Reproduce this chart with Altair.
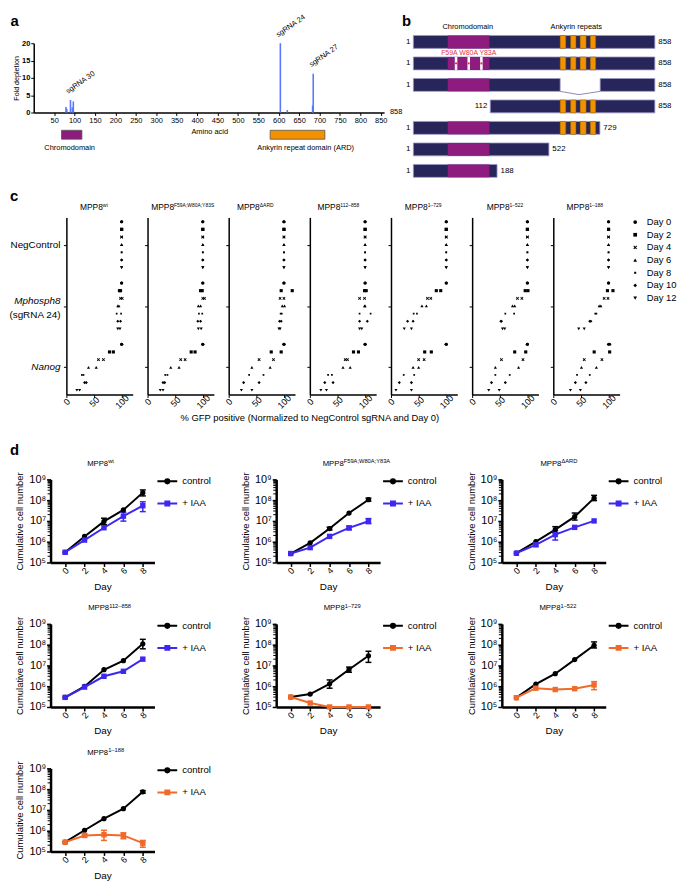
import altair as alt
import pandas as pd

FONT = "Liberation Sans"

# ====================== DATA ======================
# ---- panel a : tiling screen ----
a_aa = [79, 81, 90, 94.5, 97, 604, 621, 683, 684.5]
a_fold = [1.6, 1.0, 3.6, 1.5, 3.2, 20.0, 0.7, 2.0, 11.2]
a_guides = ["sgRNA 30", "sgRNA 24", "sgRNA 27"]
a_guide_aa = [84, 599, 680]
a_guide_fold = [5.4, 21.7, 13.1]
a_x_ticks = list(range(50, 851, 50))
a_y_ticks = [0, 5, 10, 15, 20]
a_length = 858
a_domains = ["Chromodomain", "Ankyrin repeat domain (ARD)"]
a_dom_start = [68, 579]
a_dom_end = [118, 713]
a_dom_label_at = [88, 666]

# ---- panel b : constructs (schematic units) ----
b_left_labels = ["1", "1", "1", "112", "1", "1", "1"]
b_right_labels = ["858", "858", "858", "858", "729", "522", "188"]
b_row_start = [1, 1, 1, 274, 1, 1, 1]
b_row_end = [858, 858, 858, 858, 663, 482, 298]
b_seg_row = [0, 1, 2, 2, 3, 4, 5, 6]
b_seg_start = [1, 1, 1, 664, 274, 1, 1, 1]
b_seg_end = [858, 858, 522, 858, 858, 663, 482, 298]
b_chromo_rows = [0, 1, 2, 4, 5, 6]
b_chromo = (123, 271)
b_ard_rows = [0, 1, 3, 4]
b_ard_blocks = [(522, 542), (559, 578), (593, 614), (629, 648)]
b_mut_row = 1
b_mut_blocks = [(148, 157), (193, 202), (238, 247)]
b_mut_label = "F59A W80A Y83A"
b_gap_x = [522, 589, 664]
b_headers = ["Chromodomain", "Ankyrin repeats"]
b_header_at = [194, 579]

# ---- panel c : GFP reporter ----
c_sup = ["wt", "F59A;W80A;Y83S", "\u0394ARD", "112\u2013858", "1\u2013729", "1\u2013522", "1\u2013188"]
c_groups = ["NegControl", "Mphosph8", "Nanog"]
c_days = ["Day 0", "Day 2", "Day 4", "Day 6", "Day 8", "Day 10", "Day 12"]
c_neg = [[(100, 100)] * 7 for _ in range(7)]
c_mph = [
    [(100, 100), (96, 98), (98, 101), (93, 95), (91, 99), (93, 98), (93, 97)],
    [(100, 100), (96, 99), (100, 103), (92, 96), (93, 99), (91, 96), (92, 97)],
    [(100, 100), (95, 115), (93, 100), (97, 101), (94, 96), (92, 95), (91, 93)],
    [(100, 100), (99, 102), (90, 99), (99, 100), (90, 110), (90, 104), (90, 94)],
    [(100, 100), (82, 90), (66, 72), (56, 64), (41, 47), (30, 40), (24, 37)],
    [(100, 100), (96, 101), (82, 90), (73, 77), (60, 76), (52, 53), (55, 59)],
    [(100, 100), (98, 108), (92, 99), (83, 86), (76, 78), (66, 68), (46, 56)],
]
c_nanog = [
    [(100, 100), (78, 85), (58, 67), (40, 54), (28, 31), (33, 36), (19, 24)],
    [(100, 100), (79, 86), (60, 68), (42, 57), (32, 36), (28, 31), (23, 28)],
    [(100, 100), (77, 95), (55, 81), (42, 75), (37, 63), (27, 55), (23, 42)],
    [(100, 100), (79, 88), (64, 68), (60, 73), (33, 40), (27, 42), (20, 30)],
    [(100, 100), (61, 73), (50, 60), (40, 50), (23, 42), (15, 37), (9, 37)],
    [(100, 100), (77, 97), (53, 92), (42, 84), (42, 68), (35, 60), (30, 49)],
    [(100, 102), (74, 102), (56, 88), (51, 78), (43, 66), (40, 59), (31, 49)],
]
c_xtitle = "% GFP positive (Normalized to NegControl sgRNA and Day 0)"

# ---- panel d : growth curves ----
d_sup = ["wt", "F59A;W80A;Y83A", "\u0394ARD", "112\u2013858", "1\u2013729", "1\u2013522", "1\u2013188"]
d_series = ["control", "+ IAA"]
d_days = [0, 2, 4, 6, 8]
d_ctrl = [
    [3.1e5, 1.8e6, 9.5e6, 3.4e7, 2.3e8],
    [2.7e5, 8.8e5, 4.3e6, 2.4e7, 1.05e8],
    [2.8e5, 1.0e6, 3.8e6, 1.6e7, 1.25e8],
    [2.9e5, 9.8e5, 6.2e6, 1.7e7, 1.1e8],
    [3.0e5, 4.2e5, 1.3e6, 6.4e6, 2.9e7],
    [2.8e5, 1.25e6, 4.0e6, 1.9e7, 9.3e7],
    [2.8e5, 1.05e6, 3.8e6, 1.15e7, 7.4e7],
]
d_ctrl_lo = [
    [3.1e5, 1.8e6, 6.6e6, 3.4e7, 1.6e8],
    [2.7e5, 8.8e5, 3.7e6, 2.4e7, 9.0e7],
    [2.8e5, 1.0e6, 2.7e6, 1.1e7, 9.5e7],
    [2.9e5, 9.8e5, 6.2e6, 1.7e7, 6.3e7],
    [3.0e5, 4.2e5, 8.0e5, 4.7e6, 1.4e7],
    [2.8e5, 1.25e6, 4.0e6, 1.9e7, 6.9e7],
    [2.8e5, 1.05e6, 3.8e6, 1.15e7, 6.3e7],
]
d_ctrl_hi = [
    [3.1e5, 1.8e6, 1.35e7, 3.4e7, 3.1e8],
    [2.7e5, 8.8e5, 5.0e6, 2.4e7, 1.25e8],
    [2.8e5, 1.0e6, 5.3e6, 2.4e7, 1.7e8],
    [2.9e5, 9.8e5, 6.2e6, 1.7e7, 1.8e8],
    [3.0e5, 4.2e5, 2.0e6, 8.3e6, 4.8e7],
    [2.8e5, 1.25e6, 4.0e6, 1.9e7, 1.35e8],
    [2.8e5, 1.05e6, 3.8e6, 1.15e7, 8.5e7],
]
d_iaa = [
    [3.1e5, 1.2e6, 4.7e6, 1.7e7, 5.4e7],
    [2.7e5, 5.2e5, 1.8e6, 4.6e6, 9.6e6],
    [2.8e5, 7.1e5, 2.2e6, 4.9e6, 1.0e7],
    [2.9e5, 9.1e5, 3.0e6, 5.2e6, 2.0e7],
    [3.0e5, 1.55e5, 1.0e5, 1.0e5, 1.0e5],
    [2.8e5, 8.0e5, 6.9e5, 7.6e5, 1.15e6],
    [2.8e5, 5.9e5, 6.4e5, 5.9e5, 2.5e5],
]
d_iaa_lo = [
    [3.1e5, 1.2e6, 4.7e6, 9.8e6, 2.8e7],
    [2.7e5, 5.2e5, 1.8e6, 3.8e6, 7.4e6],
    [2.8e5, 6.0e5, 1.2e6, 4.9e6, 1.0e7],
    [2.9e5, 9.1e5, 3.0e6, 5.2e6, 2.0e7],
    [3.0e5, 1.55e5, 1.0e5, 1.0e5, 1.0e5],
    [2.8e5, 8.0e5, 6.9e5, 7.6e5, 6.8e5],
    [2.8e5, 5.0e5, 3.4e5, 4.1e5, 1.6e5],
]
d_iaa_hi = [
    [3.1e5, 1.2e6, 4.7e6, 2.6e7, 8.3e7],
    [2.7e5, 5.2e5, 1.8e6, 5.6e6, 1.3e7],
    [2.8e5, 8.5e5, 3.4e6, 4.9e6, 1.0e7],
    [2.9e5, 9.1e5, 3.0e6, 5.2e6, 2.0e7],
    [3.0e5, 1.55e5, 1.0e5, 1.0e5, 1.0e5],
    [2.8e5, 8.0e5, 6.9e5, 7.6e5, 1.66e6],
    [2.8e5, 7.0e5, 1.04e6, 7.9e5, 3.4e5],
]
d_y_ticks = [1e5, 1e6, 1e7, 1e8, 1e9]

# ====================== STYLE ======================
BLUE = "#3c28f0"
ORANGE = "#f26a2a"
NAVY = "#28255a"
MAGENTA = "#8e1b7e"
AMBER = "#f39200"
D_COLORS = [BLUE, BLUE, BLUE, BLUE, ORANGE, ORANGE, ORANGE]
C_TITLE_X = [13.7, 3.7, 8.3, 7.7, 14, 14.7, 13.3]
D_TITLE_X = [37, 47, 39, 38, 48, 38, 37]

ONE = pd.DataFrame({"k": [0]})


def txt(text, x, y, size, align="left", baseline="alphabetic", weight="normal",
        style="normal", color="black", opacity=1.0):
    return alt.Chart(ONE).mark_text(
        text=text, align=align, baseline=baseline, fontSize=size, fontWeight=weight,
        fontStyle=style, color=color, opacity=opacity
    ).encode(x=alt.value(x), y=alt.value(y))


def sup_title(sup, x0, y_main, y_sup, fs_main, fs_sup):
    w = 2.723 * fs_main
    return [txt("MPP8", x0, y_main, fs_main), txt(sup, x0 + w, y_sup, fs_sup)]


def spacer(w):
    return alt.Chart(ONE).mark_point(size=0, opacity=0).encode(
        x=alt.value(0), y=alt.value(0)).properties(width=w, height=1)


# ====================== PANEL a ======================
AX = alt.Scale(domain=[0, a_length], nice=False, zero=False)
AY = alt.Scale(domain=[0, 20], nice=False, zero=False)
A_XAXIS = alt.Axis(values=a_x_ticks, labelFontSize=7.5, tickSize=3, domainWidth=1.5, labelPadding=1,
                   labelOverlap=False, labelFlush=False, title=None)
A_YAXIS = alt.Axis(values=a_y_ticks, labelFontSize=7.5, labelFontWeight="bold", tickSize=3,
                   domainWidth=1.5, labelPadding=1, title="Fold depletion", titleFontSize=7.2,
                   titleFontWeight="normal", titlePadding=1)


def ax_(f):
    return alt.X(f, scale=AX, axis=A_XAXIS)


def ay_(f):
    return alt.Y(f, scale=AY, axis=A_YAXIS)


a_bar_df = pd.DataFrame({"aa": a_aa, "fold": a_fold, "base": [0] * len(a_aa)})
a_bars = alt.Chart(a_bar_df).mark_rule(color="#5a78ff", strokeWidth=1.6).encode(
    x=ax_("aa:Q"), y=ay_("fold:Q"), y2="base:Q")
a_guide_df = pd.DataFrame({"name": a_guides, "aa": a_guide_aa, "fold": a_guide_fold})
a_guide_txt = alt.Chart(a_guide_df).mark_text(angle=325, align="left", baseline="alphabetic",
                                              fontSize=7.5, color="black").encode(
    x=ax_("aa:Q"), y=ay_("fold:Q"), text="name:N")
a_end_df = pd.DataFrame({"aa": [a_length], "fold": [0], "t": [str(a_length)]})
a_end_txt = alt.Chart(a_end_df).mark_text(align="left", baseline="middle", dx=6, fontSize=7.5,
                                          color="black").encode(
    x=ax_("aa:Q"), y=ay_("fold:Q"), text="t:N")

a_dom_df = pd.DataFrame({"name": a_domains, "start": a_dom_start, "end": a_dom_end,
                         "lab": a_dom_label_at})
a_dom_df["top"] = -5.14
a_dom_df["bot"] = -7.71
a_dom_df["ty"] = -10.9
a_dom_layers = []
for nm, colr in zip(a_domains, [MAGENTA, AMBER]):
    a_dom_layers.append(
        alt.Chart(a_dom_df).transform_filter(alt.datum.name == nm).mark_rect(
            color=colr, stroke="#555555", strokeWidth=0.8).encode(
            x=ax_("start:Q"), x2="end:Q", y=ay_("top:Q"), y2="bot:Q"))
a_dom_txt = alt.Chart(a_dom_df).mark_text(align="center", baseline="alphabetic", fontSize=7.5,
                                          color="black").encode(
    x=ax_("lab:Q"), y=ay_("ty:Q"), text="name:N")
a_amino_df = pd.DataFrame({"aa": [431], "fold": [-6.1], "t": ["Amino acid"]})
a_amino = alt.Chart(a_amino_df).mark_text(align="center", baseline="alphabetic", fontSize=7.5,
                                          color="black").encode(
    x=ax_("aa:Q"), y=ay_("fold:Q"), text="t:N")

panel_a = alt.layer(a_bars, a_guide_txt, a_end_txt, *a_dom_layers, a_dom_txt, a_amino,
                    txt("a", -23.5, -17.7, 15, weight="bold")).properties(width=354, height=70)

# ====================== PANEL b ======================
B_PX = 0.28471          # px per schematic unit
B_LEFT = 19.6           # px between plot edge and the construct start
B_W = 263.6
BX = alt.Scale(domain=[1 - B_LEFT / B_PX, 858], nice=False, zero=False)
BY = alt.Scale(domain=[0.06, 6.46], reverse=True, nice=False, zero=False)
HALF = 0.3


def bx_(f):
    return alt.X(f, scale=BX, axis=None)


def by_(f):
    return alt.Y(f, scale=BY, axis=None)


def rect_df(rows, spans):
    recs = []
    for r in rows:
        for s, e in spans:
            recs.append({"start": s, "end": e, "top": r - HALF, "bot": r + HALF})
    return pd.DataFrame(recs)


def b_rect(df, fill, stroke=None, sw=0.0):
    kw = dict(color=fill)
    if stroke:
        kw.update(stroke=stroke, strokeWidth=sw)
    return alt.Chart(df).mark_rect(**kw).encode(x=bx_("start:Q"), x2="end:Q", y=by_("top:Q"), y2="bot:Q")


b_seg_df = pd.DataFrame({"start": b_seg_start, "end": b_seg_end,
                         "top": [r - HALF for r in b_seg_row], "bot": [r + HALF for r in b_seg_row]})
b_layers = [
    b_rect(b_seg_df, NAVY, "#9a9ac8", 0.8),
    b_rect(rect_df(b_chromo_rows, [b_chromo]), MAGENTA),
    b_rect(rect_df(b_ard_rows, b_ard_blocks), AMBER, "#9a6200", 0.5),
    b_rect(rect_df([b_mut_row], b_mut_blocks), "white"),
]
b_dot_df = pd.DataFrame({"x": [(s + e) / 2 for s, e in b_mut_blocks], "y": [b_mut_row] * 3})
b_layers.append(alt.Chart(b_dot_df).mark_point(filled=True, color="#e8353f", size=5, opacity=1).encode(
    x=bx_("x:Q"), y=by_("y:Q")))
b_gap_df = pd.DataFrame({"x": b_gap_x, "y": [2 + HALF, 2 + HALF + 0.15, 2 + HALF], "o": [0, 1, 2]})
b_layers.append(alt.Chart(b_gap_df).mark_line(color="#8a8ab8", strokeWidth=1).encode(
    x=bx_("x:Q"), y=by_("y:Q"), order="o:Q"))
b_lab_df = pd.DataFrame({"row": list(range(7)), "s": b_row_start, "e": b_row_end,
                         "l": b_left_labels, "r": b_right_labels})
b_layers.append(alt.Chart(b_lab_df).mark_text(align="right", baseline="middle", dx=-3, fontSize=8,
                                              color="black").encode(
    x=bx_("s:Q"), y=by_("row:Q"), text="l:N"))
b_layers.append(alt.Chart(b_lab_df).mark_text(align="left", baseline="middle", dx=3.5, fontSize=8,
                                              color="black").encode(
    x=bx_("e:Q"), y=by_("row:Q"), text="r:N"))
b_head_df = pd.DataFrame({"t": b_headers, "x": b_header_at, "y": [-0.68, -0.68]})
b_layers.append(alt.Chart(b_head_df).mark_text(align="center", baseline="middle", fontSize=7.5,
                                               color="black").encode(
    x=bx_("x:Q"), y=by_("y:Q"), text="t:N"))
b_mut_df = pd.DataFrame({"t": [b_mut_label], "x": [b_dot_df.x.iloc[1]], "y": [b_mut_row - 0.5]})
b_layers.append(alt.Chart(b_mut_df).mark_text(align="center", baseline="middle", fontSize=7,
                                              color="#e8353f").encode(
    x=bx_("x:Q"), y=by_("y:Q"), text="t:N"))
b_layers.append(txt("b", 8, -17.7, 15, weight="bold"))
panel_b = alt.layer(*b_layers).properties(width=B_W, height=139)

# ====================== PANEL c ======================
recs = []
for p in range(7):
    for g, src in enumerate([c_neg, c_mph, c_nanog]):
        for d, pair in enumerate(src[p]):
            for v in pair:
                recs.append({"panel": p, "group": c_groups[g], "day": c_days[d],
                             "ypos": g * 8 + d, "gfp": v})
c_df = pd.DataFrame(recs)

C_X = alt.Scale(domain=[0, 120], nice=False, zero=False)
C_Y = alt.Scale(domain=[-0.56, 22.56], reverse=True, nice=False, zero=False)
X_PATH = "M-1,-0.6L-0.6,-1L0,-0.4L0.6,-1L1,-0.6L0.4,0L1,0.6L0.6,1L0,0.4L-0.6,1L-1,0.6L-0.4,0Z"
SMALL_SQ = "M-0.55,-0.55L0.55,-0.55L0.55,0.55L-0.55,0.55Z"
C_SHAPES = ["circle", "square", X_PATH, "triangle-up", SMALL_SQ, "diamond", "triangle-down"]

c_xaxis = alt.Axis(values=[0, 50, 100], labelAngle=315, labelAlign="center", labelBaseline="middle",
                   labelPadding=4, labelFontSize=9, labelOverlap=False, labelFlush=False, tickSize=3,
                   domainWidth=1.5, title=None)
c_yaxis = alt.Axis(values=[3, 11, 19], labels=False, tickSize=3, domainWidth=1.5, title=None)
c_legend = alt.Legend(title=None, orient="none", legendX=78, legendY=0, padding=0, labelFontSize=9.5,
                      labelColor="black", labelOffset=7, symbolSize=14, symbolFillColor="black",
                      symbolStrokeWidth=0, rowPadding=1.8)


def c_panel(i):
    sub = c_df[c_df.panel == i]
    layers = [alt.Chart(sub).mark_point(filled=True, opacity=1, size=10, color="black").encode(
        x=alt.X("gfp:Q", scale=C_X, axis=c_xaxis),
        y=alt.Y("ypos:Q", scale=C_Y, axis=c_yaxis),
        shape=alt.Shape("day:N", scale=alt.Scale(domain=c_days, range=C_SHAPES),
                        legend=(c_legend if i == 6 else None)),
    )]
    layers += sup_title(c_sup[i], C_TITLE_X[i], -7, -10.5, 8.5, 5)
    if i == 0:
        layers.append(txt("c", -57, -16.7, 15, weight="bold"))
        lab_specs = [("NegControl", 0, "normal", 0), ("Mphosph8", 1, "italic", -5),
                     ("(sgRNA 24)", 1, "normal", 9.5), ("Nanog", 2, "italic", 0)]
        for t, g, st, dy in lab_specs:
            ldf = pd.DataFrame({"ypos": [g * 8 + 3], "t": [t]})
            layers.append(alt.Chart(ldf).mark_text(align="right", baseline="middle", fontSize=10,
                                                   fontStyle=st, dy=dy, color="black").encode(
                x=alt.value(-6), y=alt.Y("ypos:Q", scale=C_Y, axis=c_yaxis), text="t:N"))
    if i == 3:
        layers.append(txt(c_xtitle, 0, 205.5, 9.5, align="center"))
    return alt.layer(*layers).properties(width=67, height=179)


# ====================== PANEL d ======================
recs = []
for k in range(7):
    for j, dd in enumerate(d_days):
        recs.append({"panel": k, "series": "control", "day": dd, "cells": d_ctrl[k][j],
                     "lo": d_ctrl_lo[k][j], "hi": d_ctrl_hi[k][j]})
        recs.append({"panel": k, "series": "+ IAA", "day": dd, "cells": d_iaa[k][j],
                     "lo": d_iaa_lo[k][j], "hi": d_iaa_hi[k][j]})
d_df = pd.DataFrame(recs)
minor_df = pd.DataFrame({"m": [m * 10 ** e for e in range(5, 9) for m in range(2, 10)]})
# one clipped (off-scale) entry per series: only feeds the legend
legend_df = pd.DataFrame({"series": d_series, "day": [4, 4], "cells": [1e3, 1e3]})

D_X = alt.Scale(domain=[-1.5, 9.2], nice=False, zero=False)
D_Y = alt.Scale(type="log", domain=[1e5, 1e9], nice=False)
label_expr = ("datum.value < 5e5 ? '10\u2075' : datum.value < 5e6 ? '10\u2076' : "
              "datum.value < 5e7 ? '10\u2077' : datum.value < 5e8 ? '10\u2078' : '10\u2079'")
D_XAXIS = alt.Axis(values=d_days, labelAngle=315, labelAlign="center", labelBaseline="middle",
                   labelPadding=4, labelFontSize=9, labelOverlap=False, labelFlush=False, tickSize=4,
                   tickWidth=1.5, domainWidth=2.5, title="Day", titleFontSize=10,
                   titleFontWeight="normal", titlePadding=6)
D_YAXIS = alt.Axis(values=d_y_ticks, labelExpr=label_expr, labelFontSize=11, labelPadding=1,
                   labelOverlap=False, labelFlush=False, tickSize=4, tickWidth=1.5, domainWidth=2.5,
                   title="Cumulative cell number", titleFontSize=9.5, titleFontWeight="normal",
                   titlePadding=4)
CTRL_SYM = "M-2,0L2,0M-0.42,0A0.42,0.42,0,1,1,0.42,0A0.42,0.42,0,1,1,-0.42,0Z"
IAA_SYM = "M-2,0L2,0M-0.4,-0.4L0.4,-0.4L0.4,0.4L-0.4,0.4Z"
D_LEGEND = alt.Legend(title=None, orient="none", legendX=112, legendY=-4, padding=0,
                      labelFontSize=9.7, labelColor="black", labelOffset=9, symbolSize=100,
                      symbolStrokeWidth=2, rowPadding=9.3, symbolOpacity=1)


def dx_(f):
    return alt.X(f, scale=D_X, axis=D_XAXIS)


def dy_(f):
    return alt.Y(f, scale=D_Y, axis=D_YAXIS)


def d_panel(k, letter=None):
    sub = d_df[d_df.panel == k]
    cscale = alt.Scale(domain=d_series, range=["black", D_COLORS[k]])
    cn = alt.Color("series:N", scale=cscale, legend=D_LEGEND)
    line = alt.Chart(sub).mark_line(strokeWidth=2).encode(x=dx_("day:Q"), y=dy_("cells:Q"), color=cn)
    errs = alt.Chart(sub).transform_filter("datum.hi > datum.lo")
    bar = errs.mark_rule(strokeWidth=1.5).encode(x=dx_("day:Q"), y=dy_("lo:Q"), y2="hi:Q", color=cn)
    cap_lo = errs.mark_rule(strokeWidth=1.5, xOffset=-3, x2Offset=3).encode(
        x=dx_("day:Q"), x2="day:Q", y=dy_("lo:Q"), color=cn)
    cap_hi = errs.mark_rule(strokeWidth=1.5, xOffset=-3, x2Offset=3).encode(
        x=dx_("day:Q"), x2="day:Q", y=dy_("hi:Q"), color=cn)
    p_c = alt.Chart(sub).transform_filter("datum.series == 'control'").mark_point(
        shape="circle", filled=True, size=28, opacity=1).encode(x=dx_("day:Q"), y=dy_("cells:Q"), color=cn)
    p_i = alt.Chart(sub).transform_filter("datum.series == '+ IAA'").mark_point(
        shape="square", filled=True, size=30, opacity=1).encode(x=dx_("day:Q"), y=dy_("cells:Q"), color=cn)
    key = alt.Chart(legend_df).mark_point(filled=True, clip=True, strokeWidth=2, size=100,
                                           opacity=1).encode(
        x=dx_("day:Q"), y=dy_("cells:Q"), color=cn,
        stroke=alt.Stroke("series:N", scale=cscale, legend=D_LEGEND),
        shape=alt.Shape("series:N", scale=alt.Scale(domain=d_series, range=[CTRL_SYM, IAA_SYM]),
                        legend=D_LEGEND))
    minor = alt.Chart(minor_df).mark_rule(color="black", strokeWidth=1).encode(
        x=alt.value(-3), x2=alt.value(0), y=dy_("m:Q"))
    layers = [line, minor, bar, cap_lo, cap_hi, p_c, p_i, key]
    layers += sup_title(d_sup[k], D_TITLE_X[k], -13.5, -16.5, 7.8, 5.8)
    if letter:
        layers.append(txt(letter, -41, -24.3, 15, weight="bold"))
    return alt.layer(*layers).properties(width=105, height=84)


# ====================== LAYOUT ======================
def ind(ch):
    return ch.resolve_scale(color="independent", shape="independent", stroke="independent").resolve_legend(
        color="independent", shape="independent", stroke="independent")


row1 = ind(alt.hconcat(spacer(13.4), panel_a, panel_b, spacing=10, bounds="flush"))
row2 = ind(alt.hconcat(spacer(42), *[c_panel(i) for i in range(7)], spacing=15, bounds="flush"))
row3 = ind(alt.hconcat(spacer(31), d_panel(0, letter="d"), spacer(103), d_panel(1), spacer(103),
                       d_panel(2), spacing=10, bounds="flush"))
row4 = ind(alt.hconcat(spacer(31), d_panel(3), spacer(103), d_panel(4), spacer(103),
                       d_panel(5), spacing=10, bounds="flush"))
row5 = ind(alt.hconcat(spacer(31), d_panel(6), spacing=10, bounds="flush"))

top = ind(alt.concat(row1, row2, columns=1, align="none", spacing=8))
bottom = ind(alt.concat(row3, row4, row5, columns=1, align="none", spacing=10))
chart = ind(alt.concat(top, bottom, columns=1, align="none", spacing=20.7)).properties(padding=0)

chart = chart.configure(font=FONT).configure_view(stroke=None).configure_axis(
    grid=False, domainColor="black", tickColor="black", labelColor="black", titleColor="black",
    labelFont=FONT, titleFont=FONT
).configure_legend(labelFont=FONT).configure_text(font=FONT)

chart.save("out.html", embed_options={"renderer": "svg", "actions": False})
